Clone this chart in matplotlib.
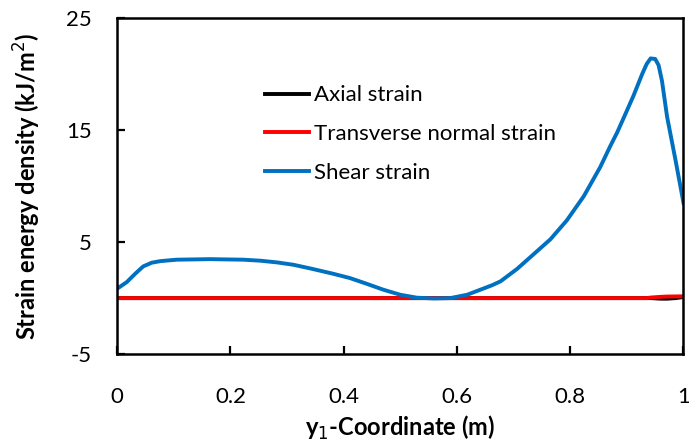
import matplotlib
matplotlib.use("Agg")
import matplotlib.pyplot as plt

plt.rcParams['font.family'] = ['Lato', 'DejaVu Sans']
plt.rcParams['axes.unicode_minus'] = False

# Position along the beam (m)
y1 = [0.0, 0.017, 0.032, 0.046, 0.061, 0.076, 0.105, 0.164, 0.223, 0.253,
      0.282, 0.311, 0.341, 0.381, 0.411, 0.440, 0.470, 0.500, 0.529, 0.559,
      0.588, 0.618, 0.646, 0.662, 0.677, 0.706, 0.735, 0.765, 0.794, 0.824,
      0.853, 0.871, 0.883, 0.898, 0.912, 0.927, 0.935, 0.942, 0.950, 0.956,
      0.962, 0.971, 0.986, 1.0]

# Shear strain energy density (kJ/m^2)
shear = [0.84, 1.43, 2.18, 2.83, 3.16, 3.30, 3.43, 3.48, 3.43, 3.34,
         3.19, 2.98, 2.65, 2.18, 1.79, 1.29, 0.75, 0.30, 0.04, -0.03,
         0.0, 0.30, 0.84, 1.15, 1.50, 2.60, 3.90, 5.25, 6.94, 9.10,
         11.7, 13.6, 14.8, 16.5, 18.1, 20.0, 20.9, 21.4, 21.35, 20.8,
         19.4, 16.2, 12.3, 8.5]

# Transverse normal and axial strain energy density (kJ/m^2)
transverse = [0.0] * 37 + [0.05, 0.08, 0.10, 0.12, 0.14, 0.15, 0.16]
axial = [0.0] * 37 + [0.0, -0.02, -0.04, -0.05, -0.05, 0.0, 0.1]

labels = ["Axial strain", "Transverse normal strain", "Shear strain"]
colors = ["#000000", "#ff0000", "#0070c0"]

fig = plt.figure(figsize=(6.89, 4.41), dpi=100)
ax = fig.add_axes([0.170, 0.197, 0.822, 0.762])

lw = 2.8
ax.plot(y1, axial, color=colors[0], lw=lw, label=labels[0], solid_joinstyle='round')
ax.plot(y1, transverse, color=colors[1], lw=lw, label=labels[1], solid_joinstyle='round')
ax.plot(y1, shear, color=colors[2], lw=lw, label=labels[2], solid_joinstyle='round')

ax.set_xlim(0, 1)
ax.set_ylim(-5, 25)
ax.set_xticks([0, 0.2, 0.4, 0.6, 0.8, 1])
ax.set_xticklabels(["0", "0.2", "0.4", "0.6", "0.8", "1"])
ax.set_yticks([-5, 5, 15, 25])
ax.tick_params(direction='in', length=6, width=1.6, labelsize=16)
ax.tick_params(axis='x', pad=24)
ax.tick_params(axis='y', pad=18)
for s in ax.spines.values():
    s.set_linewidth(1.8)

ax.set_xlabel("y$_1$-Coordinate (m)", fontsize=17, fontweight='bold')
ax.set_ylabel("Strain energy density (kJ/m$^2$)", fontsize=17, fontweight='bold')
ax.xaxis.set_label_coords(0.5, -0.178)
ax.yaxis.set_label_coords(-0.131, 0.5)

ax.legend(loc='upper left', bbox_to_anchor=(0.261, 0.80), frameon=False,
          fontsize=16, handlelength=2.0, handletextpad=0.2, labelspacing=0.85,
          borderaxespad=0, borderpad=0)

fig.savefig("out.png", dpi=100)
